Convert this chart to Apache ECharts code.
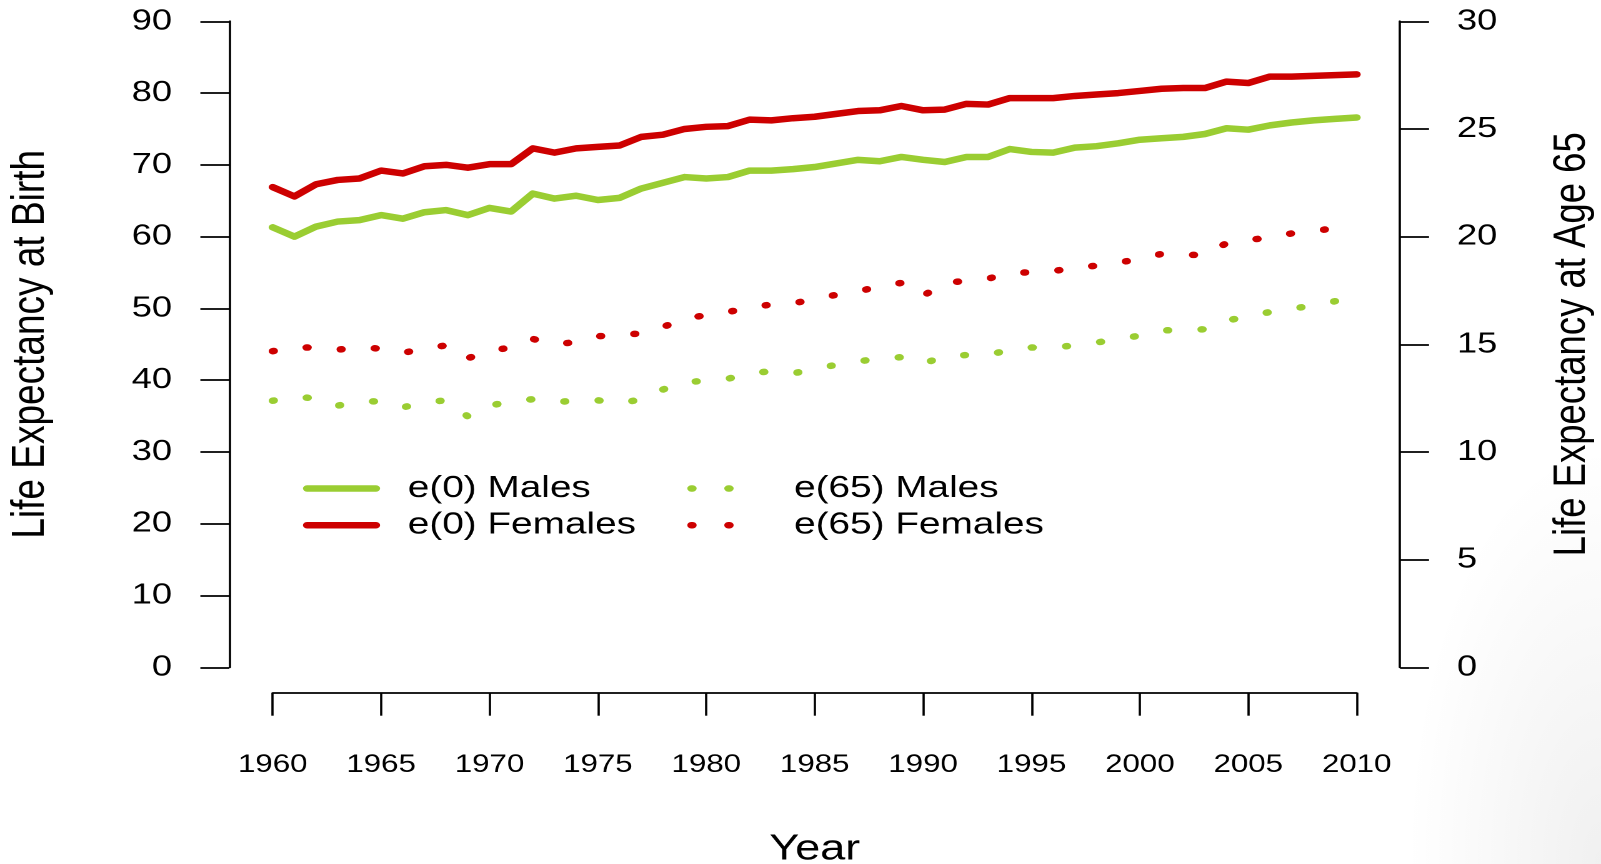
<!DOCTYPE html>
<html>
<head>
<meta charset="utf-8">
<script src="https://cdn.jsdelivr.net/npm/echarts@6/dist/echarts.min.js"></script>
<style>
html,body{margin:0;padding:0;overflow:hidden;width:1601px;height:864px;}
body{background:radial-gradient(ellipse 260px 560px at 100% 100%, rgba(0,0,0,0.06), rgba(0,0,0,0) 75%), #fff;}
#wrap{width:1281px;height:864px;transform:scaleX(1.24980);transform-origin:0 0;}
</style>
</head>
<body>
<div id="wrap"></div>
<script>
const years = [1960,1961,1962,1963,1964,1965,1966,1967,1968,1969,1970,1971,1972,1973,1974,1975,1976,1977,1978,1979,1980,1981,1982,1983,1984,1985,1986,1987,1988,1989,1990,1991,1992,1993,1994,1995,1996,1997,1998,1999,2000,2001,2002,2003,2004,2005,2006,2007,2008,2009,2010];
const e0Males = [61.3,60.0,61.4,62.1,62.3,63.0,62.5,63.4,63.7,63.0,64.0,63.5,66.0,65.3,65.7,65.1,65.4,66.7,67.5,68.3,68.1,68.3,69.2,69.2,69.4,69.7,70.2,70.7,70.5,71.1,70.7,70.4,71.1,71.1,72.2,71.8,71.7,72.4,72.6,73.0,73.5,73.7,73.9,74.3,75.1,74.9,75.5,75.9,76.2,76.4,76.6];
const e0Females = [66.9,65.6,67.3,67.9,68.1,69.2,68.8,69.8,70.0,69.6,70.1,70.1,72.3,71.7,72.3,72.5,72.7,73.9,74.2,75.0,75.3,75.4,76.3,76.2,76.5,76.7,77.1,77.5,77.6,78.2,77.6,77.7,78.5,78.4,79.3,79.3,79.3,79.6,79.8,80.0,80.3,80.6,80.7,80.7,81.6,81.4,82.3,82.3,82.4,82.5,82.6];
const e65Males = [12.38,12.55,12.5,12.15,12.35,12.35,12.07,12.3,12.4,11.65,12.15,12.35,12.45,12.3,12.4,12.4,12.25,12.45,12.9,13.25,13.3,13.4,13.65,13.75,13.65,13.85,14.05,14.2,14.35,14.4,14.1,14.45,14.5,14.5,14.75,14.85,14.85,14.95,15.08,15.25,15.4,15.65,15.65,15.7,16.1,16.3,16.5,16.65,16.8,17.0,17.15];
const e65Females = [14.68,14.85,14.85,14.75,14.85,14.8,14.6,14.8,14.95,14.35,14.7,14.85,15.25,15.0,15.1,15.37,15.45,15.5,15.8,16.2,16.35,16.5,16.7,16.85,16.9,17.1,17.3,17.45,17.7,17.85,17.25,17.85,17.95,18.05,18.3,18.35,18.4,18.55,18.65,18.8,18.95,19.2,19.15,19.15,19.7,19.85,19.95,20.15,20.25,20.4,20.5];
const seriesNames = ['e(0) Males','e(0) Females','e(65) Males','e(65) Females'];
const xTitle = 'Year';
const yLeftTitle = 'Life Expectancy at Birth';
const yRightTitle = 'Life Expectancy at Age 65';

const GREEN = '#9ACD32', RED = '#CD0000';
const FONT = 'Liberation Sans';
const pairs = (vals) => years.map((y, i) => [y, vals[i]]);

const chart = echarts.init(document.getElementById('wrap'), null, {renderer:'canvas', devicePixelRatio: 2});
const axisLineStyle = {color:'#000', width:1.8};
chart.setOption({
  animation:false,
  backgroundColor:'transparent',
  textStyle:{fontFamily:FONT, color:'#000'},
  grid:{left:218.2, right:195.5, top:21.3, bottom:196.7, containLabel:false, outerBoundsMode:'none'},
  xAxis:{
    type:'value', min:1960, max:2010, interval:5, position:'bottom', offset:25.4,
    axisLine:{show:true, onZero:false, lineStyle:axisLineStyle},
    axisTick:{show:true, length:23, lineStyle:{color:'#000', width:1.8}},
    splitLine:{show:false},
    axisLabel:{margin:60, fontSize:25, color:'#000', fontFamily:FONT, formatter:(v)=>String(v)},
    name:xTitle, nameLocation:'middle', nameGap:139,
    nameTextStyle:{fontSize:36, color:'#000', fontFamily:FONT}
  },
  yAxis:[{
    type:'value', min:0, max:90, interval:10, position:'left', offset:34.7,
    axisLine:{show:true, onZero:false, lineStyle:axisLineStyle},
    axisTick:{show:true, length:23.2, lineStyle:{color:'#000', width:1.8}},
    splitLine:{show:false},
    axisLabel:{margin:45.9, fontSize:29, color:'#000', fontFamily:FONT},
    name:yLeftTitle, nameLocation:'middle', nameGap:140, nameRotate:90,
    nameTextStyle:{fontSize:37, color:'#000', fontFamily:FONT}
  },{
    type:'value', min:0, max:30, interval:5, position:'right', offset:34.7,
    axisLine:{show:true, onZero:false, lineStyle:axisLineStyle},
    axisTick:{show:true, length:23.2, lineStyle:{color:'#000', width:1.8}},
    splitLine:{show:false},
    axisLabel:{margin:45.6, fontSize:29, color:'#000', fontFamily:FONT},
    name:yRightTitle, nameLocation:'middle', nameGap:119, nameRotate:90,
    nameTextStyle:{fontSize:36.5, color:'#000', fontFamily:FONT}
  }],
  legend:[{
    data:[seriesNames[0], seriesNames[1]],
    orient:'vertical', left:242.4, top:473, padding:0,
    itemWidth:55.2, itemHeight:14, itemGap:5.7, selectedMode:false,
    itemStyle:{opacity:0, borderWidth:0},
    lineStyle:{width:6.5, cap:'round', type:'solid'},
    textStyle:{fontSize:31, color:'#000', fontFamily:FONT, lineHeight:30, padding:[0,0,0,20.4]}
  },{
    data:[seriesNames[2], seriesNames[3]],
    orient:'vertical', left:549.9, top:473, padding:0,
    itemWidth:55.2, itemHeight:14, itemGap:5.7, selectedMode:false,
    itemStyle:{opacity:0, borderWidth:0},
    lineStyle:{width:6.5, cap:'round', type:[1,28.6], dashOffset:0},
    textStyle:{fontSize:31, color:'#000', fontFamily:FONT, lineHeight:30, padding:[0,0,0,22]}
  }],
  series:[{
    name:seriesNames[0], type:'line', yAxisIndex:0, data:pairs(e0Males),
    symbol:'none', clip:false, color:GREEN,
    lineStyle:{color:GREEN, width:6.5, cap:'round', join:'round'}
  },{
    name:seriesNames[1], type:'line', yAxisIndex:0, data:pairs(e0Females),
    symbol:'none', clip:false, color:RED,
    lineStyle:{color:RED, width:6.5, cap:'round', join:'round'}
  },{
    name:seriesNames[2], type:'line', yAxisIndex:1, data:pairs(e65Males),
    symbol:'none', clip:false, color:GREEN,
    lineStyle:{color:GREEN, width:6.5, cap:'round', join:'round', type:[1,26.55]}
  },{
    name:seriesNames[3], type:'line', yAxisIndex:1, data:pairs(e65Females),
    symbol:'none', clip:false, color:RED,
    lineStyle:{color:RED, width:6.5, cap:'round', join:'round', type:[1,26.4]}
  }]
});
</script>
</body>
</html>
